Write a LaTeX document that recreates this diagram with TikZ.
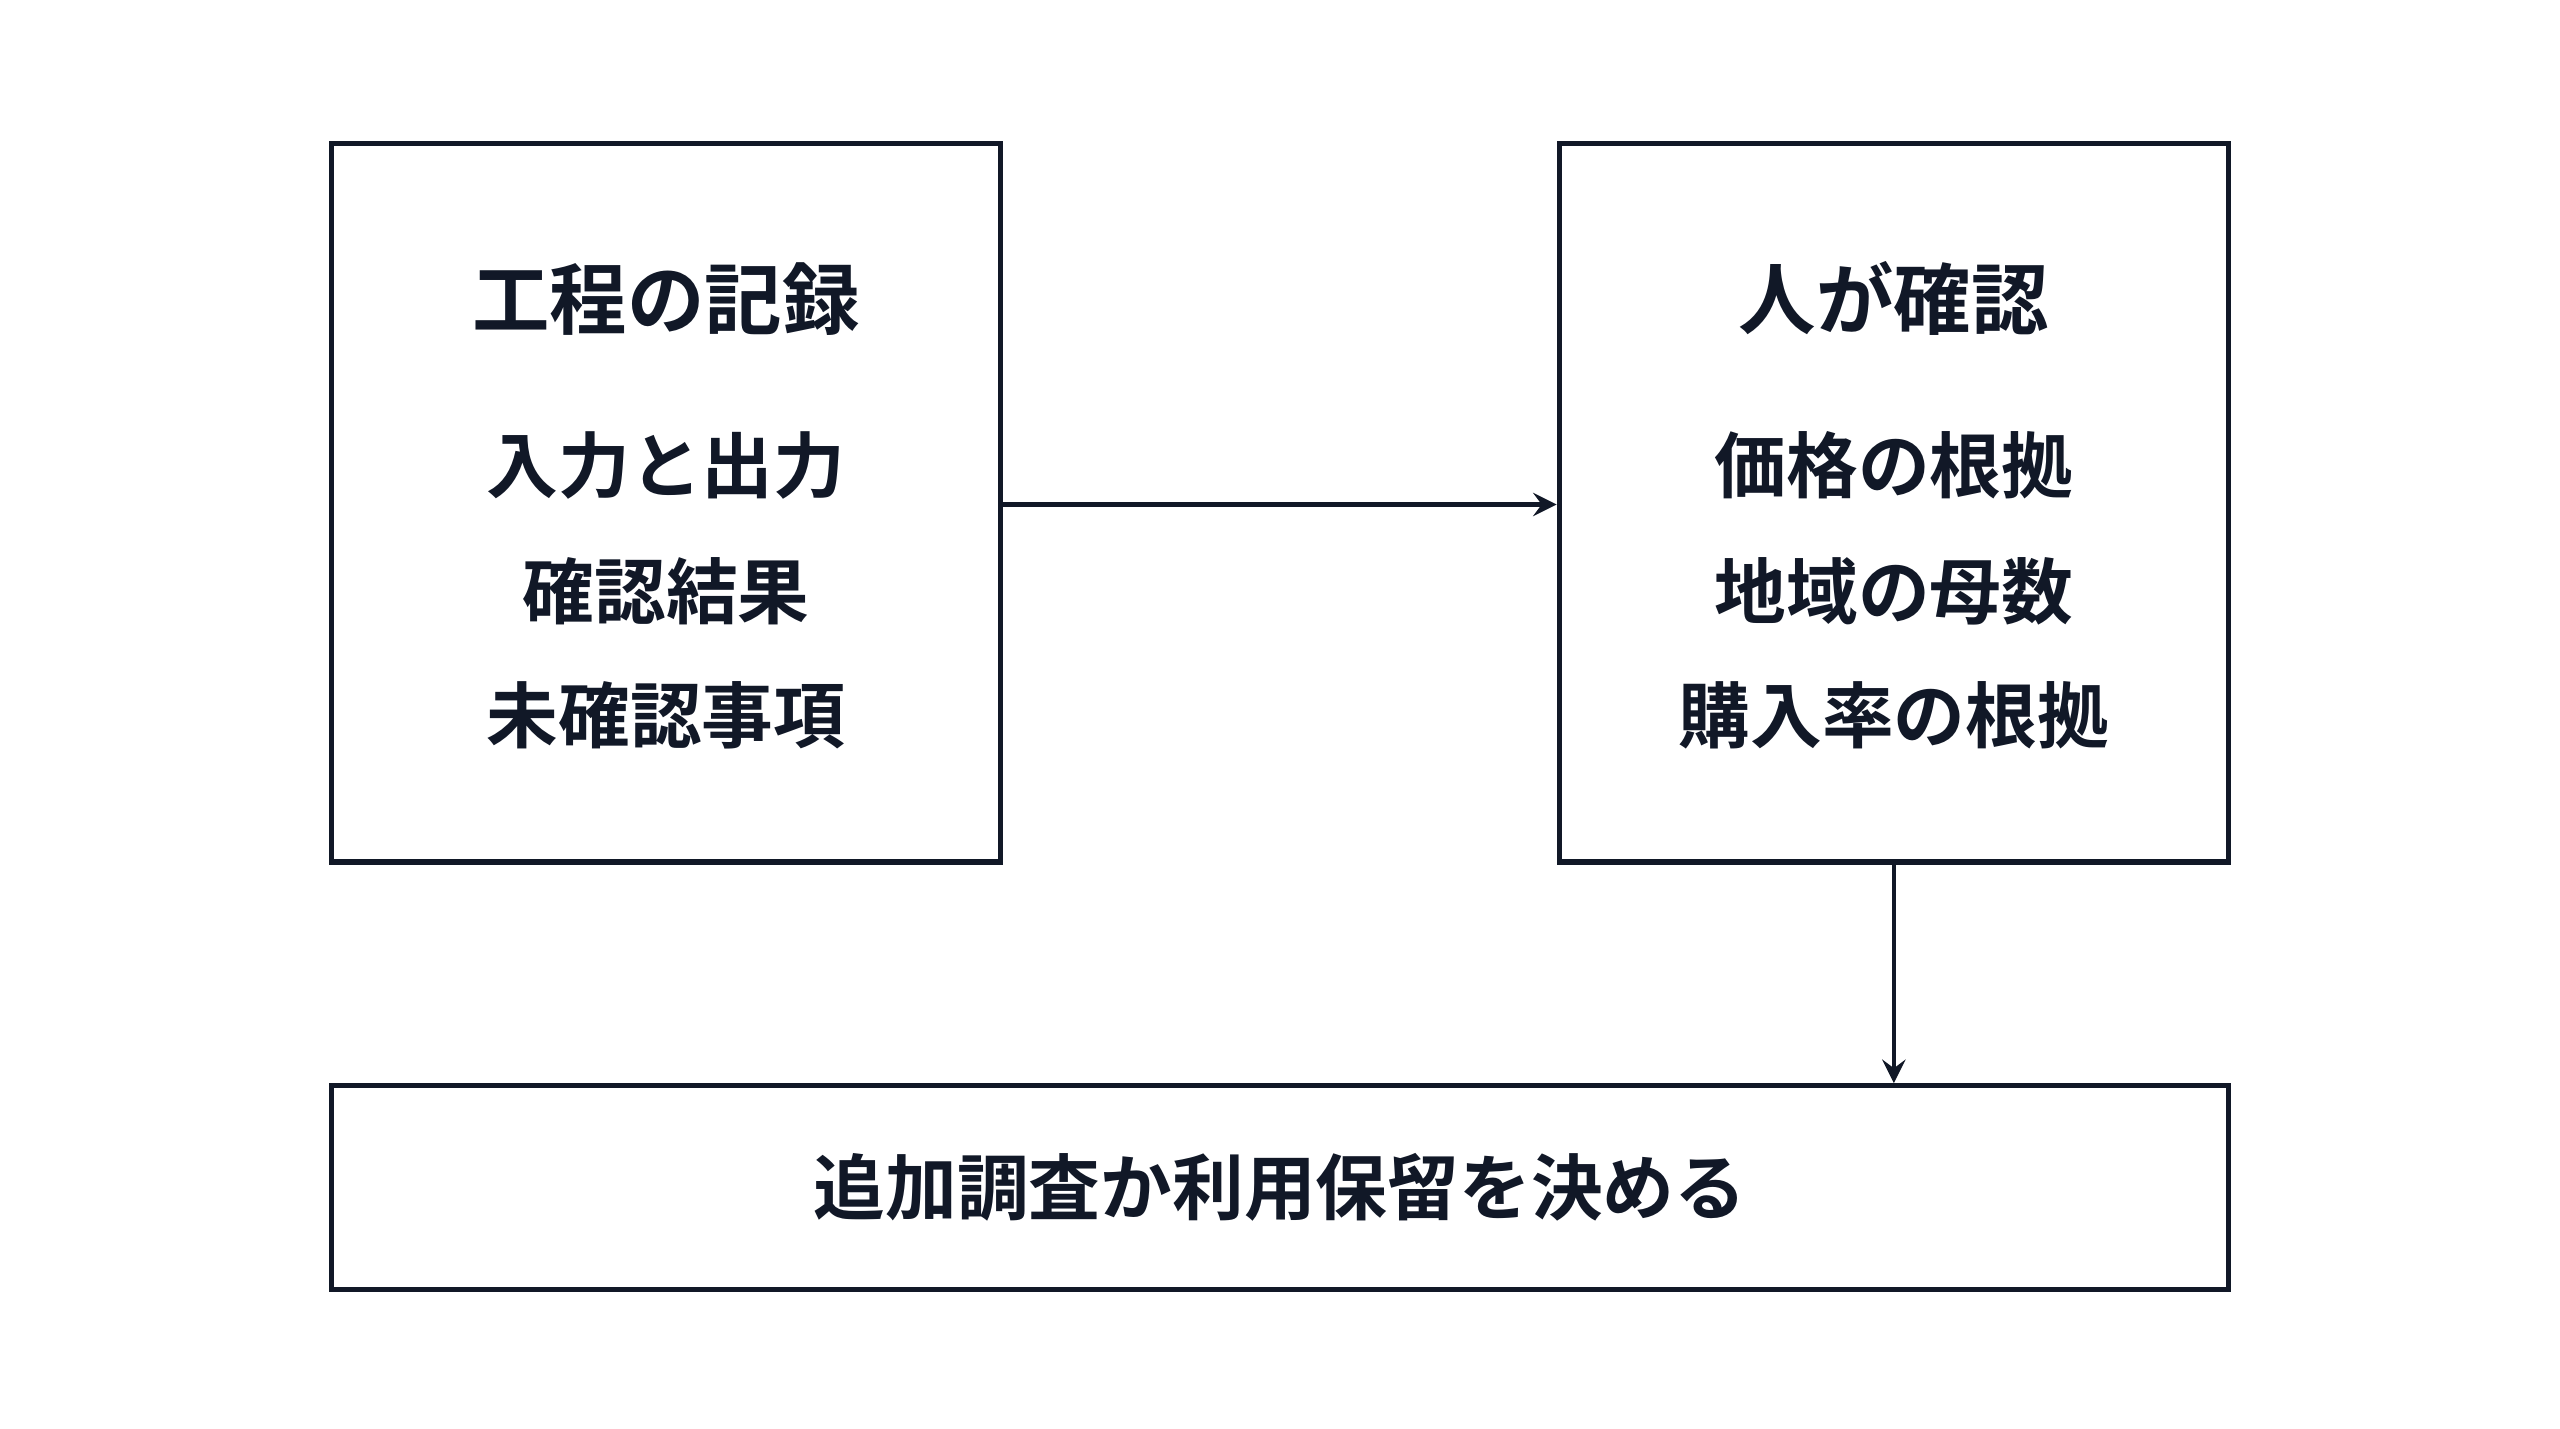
\documentclass[tikz,border=0pt]{standalone}
\usepackage{fontspec}
\newfontfamily\cjk{Noto Sans CJK JP Bold}
\usetikzlibrary{positioning}
\definecolor{ink}{HTML}{111827}
\begin{document}
\begin{tikzpicture}[
        box/.style={draw=ink, line width=0.9pt},
        title/.style={text=ink, font=\cjk\fontsize{13.5}{16}\selectfont},
        item/.style={text=ink, font=\cjk\fontsize{12.5}{15}\selectfont},
        link/.style={draw=ink, line width=0.8pt, ->, >=stealth},]
        
        \useasboundingbox (0,0) rectangle (15.68,8.75);
        
        % Boxes
        \node[box, minimum width=4.1cm, minimum height=4.4cm] (rec) at (4.08,5.67) {};
        \node[box, minimum width=4.1cm, minimum height=4.4cm] (chk) at (11.60,5.67) {};
        \node[box, minimum width=11.62cm, minimum height=1.25cm] (dec) at (7.84,1.475) {};
        
        % Texts
        \node[title] (rect) at (4.08,6.92) {工程の記録};
        \node[item] (rec1) at (4.08,5.90) {入力と出力};
        \node[item] (rec2) at (4.08,5.13) {確認結果};
        \node[item] (rec3) at (4.08,4.37) {未確認事項};
        
        \node[title] (chkt) at (11.60,6.92) {人が確認};
        \node[item] (chk1) at (11.60,5.90) {価格の根拠};
        \node[item] (chk2) at (11.60,5.13) {地域の母数};
        \node[item] (chk3) at (11.60,4.37) {購入率の根拠};
        
        \node[item] (dect) at (7.84,1.48) {追加調査か利用保留を決める};
        
        % Edges
        \draw[link] (rec.east |- 0,5.66) -- (chk.west |- 0,5.66);
        \draw[link] (chk.south) -- (dec.north -| chk.south);
    \end{tikzpicture}
\end{document}
